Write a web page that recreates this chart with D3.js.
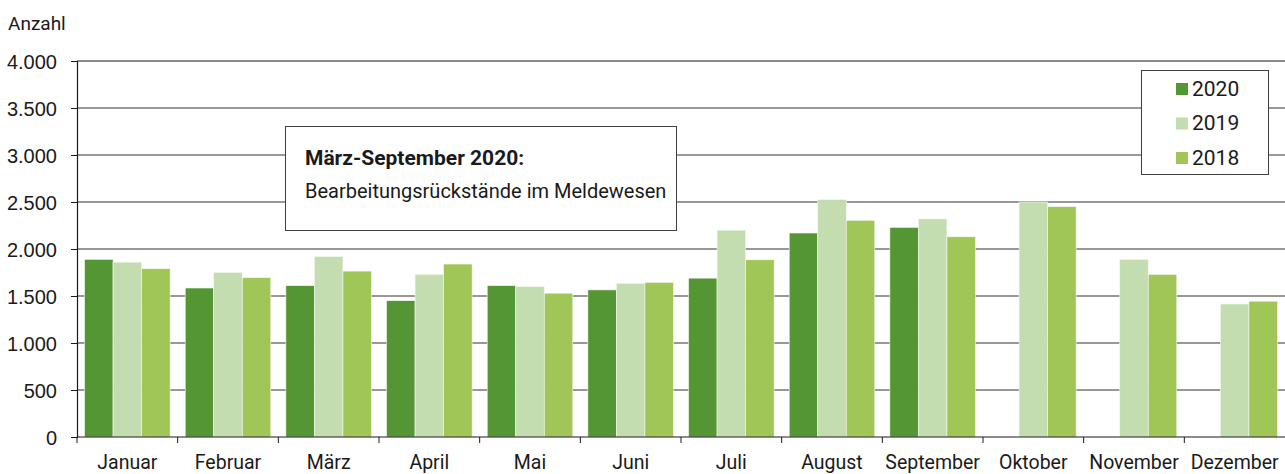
<!DOCTYPE html>
<html lang="de">
<head>
  <meta charset="UTF-8">
  <title>Anzahl je Monat 2018-2020</title>
  <script src="https://d3js.org/d3.v7.min.js"></script>
  <style>
    body { margin: 0; background: #fff; }
    svg { display: block; font-family: Roboto, "Open Sans", sans-serif; }
    .grid line { stroke: #767676; stroke-width: 1.5; }
    .axis text { fill: #1a1a1a; }
  </style>
</head>
<body>
  <svg id="chart"></svg>
  <script>
    const months = ["Januar", "Februar", "März", "April", "Mai", "Juni", "Juli",
                    "August", "September", "Oktober", "November", "Dezember"];
    const years = ["2020", "2019", "2018"];
    const values2020 = [1890, 1585, 1610, 1450, 1610, 1565, 1690, 2170, 2230, null, null, null];
    const values2019 = [1860, 1750, 1920, 1730, 1600, 1635, 2200, 2525, 2320, 2500, 1890, 1415];
    const values2018 = [1790, 1695, 1765, 1840, 1530, 1645, 1885, 2305, 2130, 2450, 1730, 1445];
    const yTicks = [0, 500, 1000, 1500, 2000, 2500, 3000, 3500, 4000];
    const colors = { "2020": "#549534", "2019": "#c3ddb0", "2018": "#a0c657" };

    const W = 1285, H = 474;
    const margin = { top: 61, right: 0, bottom: 37, left: 77 };
    const svg = d3.select("#chart").attr("width", W).attr("height", H);

    const series = { "2020": values2020, "2019": values2019, "2018": values2018 };
    const rows = months.map((m, i) => ({ month: m, vals: years.map(y => ({ year: y, v: series[y][i] })) }));

    const x0 = d3.scaleBand().domain(months)
      .range([margin.left, W - margin.right])
      .paddingInner(0.15).paddingOuter(0.075);
    const x1 = d3.scaleBand().domain(years).range([0, x0.bandwidth()]);
    const y = d3.scaleLinear().domain([0, 4000]).range([H - margin.bottom, margin.top]);

    const fmt = d3.formatLocale({ decimal: ",", thousands: ".", grouping: [3], currency: ["", "€"] }).format(",");

    // gridlines
    svg.append("g").attr("class", "grid")
      .selectAll("line").data(yTicks.filter(t => t > 0)).join("line")
      .attr("x1", margin.left).attr("x2", W)
      .attr("y1", d => y(d)).attr("y2", d => y(d))
      .style("stroke", d => d === 4000 ? "#1a1a1a" : null)
      .style("stroke-width", d => d === 4000 ? 1.2 : null);

    // bars
    svg.append("g").selectAll("g").data(rows).join("g")
      .attr("transform", d => `translate(${x0(d.month)},0)`)
      .selectAll("rect").data(d => d.vals.filter(e => e.v != null)).join("rect")
      .attr("x", d => x1(d.year))
      .attr("width", x1.bandwidth())
      .attr("y", d => y(d.v))
      .attr("height", d => y(0) - y(d.v))
      .attr("fill", d => colors[d.year])
      .attr("stroke", "#f4f9ee").attr("stroke-width", 0.6);

    // y axis
    const yAxis = svg.append("g").attr("class", "axis")
      .attr("transform", `translate(${margin.left},0)`)
      .call(d3.axisLeft(y).tickValues(yTicks).tickFormat(fmt).tickSize(6).tickPadding(14));
    yAxis.select(".domain").attr("stroke", "#1a1a1a").attr("stroke-width", 1.2);
    yAxis.selectAll(".tick line").attr("stroke", "#1a1a1a");
    yAxis.selectAll("text").style("font-size", "20px").attr("dy", "0.36em");

    // x axis: ticks at band boundaries
    const step = x0.step();
    const xg = svg.append("g").attr("class", "axis");
    xg.append("line").attr("x1", margin.left).attr("x2", W)
      .attr("y1", y(0)).attr("y2", y(0)).attr("stroke", "#1a1a1a").attr("stroke-width", 1.2);
    xg.selectAll(".xt").data(months).join("line").attr("class", "xt")
      .attr("x1", d => x0(d) - step * 0.075).attr("x2", d => x0(d) - step * 0.075)
      .attr("y1", y(0)).attr("y2", y(0) + 6).attr("stroke", "#1a1a1a");
    xg.selectAll(".xl").data(months).join("text").attr("class", "xl")
      .attr("x", d => x0(d) + x0.bandwidth() / 2)
      .attr("y", 468.5)
      .attr("text-anchor", "middle")
      .style("font-size", "19.5px")
      .text(d => d);

    // unit label
    svg.append("text").attr("x", 8).attr("y", 29.5)
      .style("font-size", "19px").attr("fill", "#1a1a1a").text("Anzahl");

    // annotation box
    const note = svg.append("g");
    note.append("rect").attr("x", 285.5).attr("y", 126.5).attr("width", 391).attr("height", 104)
      .attr("fill", "#fff").attr("stroke", "#404040");
    note.append("text").attr("x", 305).attr("y", 164.5)
      .style("font-size", "21px").style("font-weight", "bold").attr("fill", "#1a1a1a")
      .text("März-September 2020:");
    note.append("text").attr("x", 305).attr("y", 197.5)
      .style("font-size", "20px").attr("fill", "#1a1a1a")
      .text("Bearbeitungsrückstände im Meldewesen");

    // legend
    const leg = svg.append("g");
    leg.append("rect").attr("x", 1141.5).attr("y", 70.5).attr("width", 127).attr("height", 104)
      .attr("fill", "#fff").attr("stroke", "#404040");
    const li = leg.selectAll(".li").data(years).join("g").attr("class", "li")
      .attr("transform", (d, i) => `translate(1176,${83 + i * 34.5})`);
    li.append("rect").attr("width", 12).attr("height", 12).attr("fill", d => colors[d]);
    li.append("text").attr("x", 16).attr("y", 12.5)
      .style("font-size", "21px").attr("fill", "#1a1a1a").text(d => d);
  </script>
</body>
</html>
